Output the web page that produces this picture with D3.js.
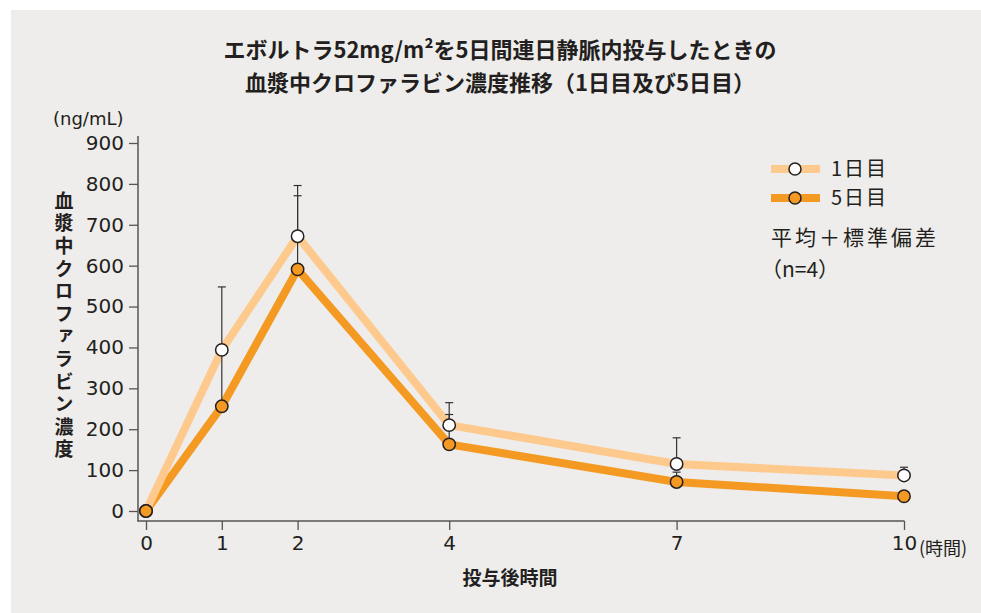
<!DOCTYPE html>
<html>
<head>
<meta charset="utf-8">
<script src="https://d3js.org/d3.v7.min.js"></script>
<style>
  body { margin: 0; background: #fff; }
  text { font-family: 'Noto Sans CJK JP', 'Noto Sans', sans-serif; fill: #231f20; }
</style>
</head>
<body>
<svg id="chart" width="981" height="613"></svg>
<script>
// data
var hours = [0, 1, 2, 4, 7, 10];
var day1Mean = [0, 394, 672, 210, 115, 87];
var day1Sd   = [0, 154, 124, 55, 64, 20];
var day5Mean = [0, 256, 591, 163, 71, 36];
var day5Sd   = [0, 140, 180, 73, 24, 0];
var yTicks = [0, 100, 200, 300, 400, 500, 600, 700, 800, 900];
var seriesNames = ['1日目', '5日目'];

var svg = d3.select('#chart');

// grey panel
svg.append('rect')
  .attr('x', 11).attr('y', 10)
  .attr('width', 970).attr('height', 603)
  .attr('fill', '#eeedeb');

// title
var title = svg.append('text')
  .attr('text-anchor', 'middle')
  .attr('font-size', 22)
  .attr('font-weight', 'bold');
title.append('tspan').attr('x', 500).attr('y', 58)
  .text('エボルトラ52mg/m²を5日間連日静脈内投与したときの');
title.append('tspan').attr('x', 500).attr('y', 91)
  .text('血漿中クロファラビン濃度推移（1日目及び5日目）');

var x = d3.scaleLinear().domain([0, 10]).range([146, 904]);
var y = d3.scaleLinear().domain([0, 900]).range([511, 143]);

// axes
var axisColor = '#555';
svg.append('line')
  .attr('x1', 138).attr('x2', 138)
  .attr('y1', 136).attr('y2', 521.5)
  .attr('stroke', axisColor).attr('stroke-width', 1.5);
svg.append('line')
  .attr('x1', 137.5).attr('x2', 904.5)
  .attr('y1', 521).attr('y2', 521)
  .attr('stroke', axisColor).attr('stroke-width', 1.5);

var yAxis = svg.append('g')
  .attr('transform', 'translate(138,0)')
  .call(d3.axisLeft(y).tickValues(yTicks).tickSize(9).tickPadding(5));
var xAxis = svg.append('g')
  .attr('transform', 'translate(0,521)')
  .call(d3.axisBottom(x).tickValues(hours).tickSize(9).tickPadding(6));
[yAxis, xAxis].forEach(function(g) {
  g.select('.domain').remove();
  g.selectAll('line').attr('stroke', axisColor).attr('stroke-width', 1.3);
  g.selectAll('text').attr('font-size', 20).attr('fill', '#231f20')
    .style('font-family', "'DejaVu Sans', sans-serif");
});

svg.append('text').attr('x', 919).attr('y', 555)
  .attr('font-size', 18).text('(時間)');

svg.append('text').attr('x', 510).attr('y', 585)
  .attr('text-anchor', 'middle')
  .attr('font-size', 19).attr('font-weight', 'bold')
  .text('投与後時間');

svg.append('text').attr('x', 53).attr('y', 125)
  .attr('font-size', 18).text('(ng/mL)')
  .style('font-family', "'DejaVu Sans', sans-serif");

// vertical y title
svg.append('text')
  .attr('x', 64).attr('y', 191)
  .attr('font-size', 19).attr('font-weight', 'bold')
  .style('writing-mode', 'vertical-rl')
  .style('letter-spacing', '3.6px')
  .text('血漿中クロファラビン濃度');

var series = [
  { name: seriesNames[0], mean: day1Mean, sd: day1Sd, line: '#fec98d', fill: '#ffffff' },
  { name: seriesNames[1], mean: day5Mean, sd: day5Sd, line: '#f49a22', fill: '#f49a22' }
];

var line = d3.line()
  .x(function(d) { return x(d[0]); })
  .y(function(d) { return y(d[1]); });

// lines: day5 first, day1 on top
[series[1], series[0]].forEach(function(s) {
  svg.append('path')
    .datum(hours.map(function(h, i) { return [h, s.mean[i]]; }))
    .attr('d', line)
    .attr('fill', 'none')
    .attr('stroke', s.line)
    .attr('stroke-width', 8)
    .attr('stroke-linejoin', 'miter');
});

// error bars
series.forEach(function(s) {
  var g = svg.append('g');
  hours.forEach(function(h, i) {
    if (s.sd[i] <= 0) return;
    var top = y(s.mean[i] + s.sd[i]);
    g.append('line')
      .attr('x1', x(h)).attr('x2', x(h))
      .attr('y1', y(s.mean[i])).attr('y2', top)
      .attr('stroke', '#333').attr('stroke-width', 1.2);
    g.append('line')
      .attr('x1', x(h) - 4).attr('x2', x(h) + 4)
      .attr('y1', top).attr('y2', top)
      .attr('stroke', '#333').attr('stroke-width', 1.2);
  });
});

// markers
[series[0], series[1]].forEach(function(s) {
  svg.append('g').selectAll('circle')
    .data(hours).enter().append('circle')
    .attr('cx', function(d) { return x(d); })
    .attr('cy', function(d, i) { return y(s.mean[i]); })
    .attr('r', 6.2)
    .attr('fill', s.fill)
    .attr('stroke', '#231f20')
    .attr('stroke-width', 1.5);
});

// legend
var legend = svg.append('g');
series.forEach(function(s, i) {
  var ly = 169 + i * 29;
  legend.append('line')
    .attr('x1', 771).attr('x2', 820)
    .attr('y1', ly).attr('y2', ly)
    .attr('stroke', s.line).attr('stroke-width', 8);
  legend.append('circle')
    .attr('cx', 795).attr('cy', ly).attr('r', 6)
    .attr('fill', s.fill).attr('stroke', '#231f20').attr('stroke-width', 1.5);
  legend.append('text')
    .attr('x', 831).attr('y', ly + 7)
    .attr('font-size', 20)
    .style('letter-spacing', '2px')
    .text(s.name);
});
legend.append('text').attr('x', 771).attr('y', 245)
  .attr('font-size', 21)
  .style('letter-spacing', '3px')
  .text('平均＋標準偏差');
legend.append('text').attr('x', 761).attr('y', 277)
  .attr('font-size', 21).text('（n=4）');
</script>
</body>
</html>
